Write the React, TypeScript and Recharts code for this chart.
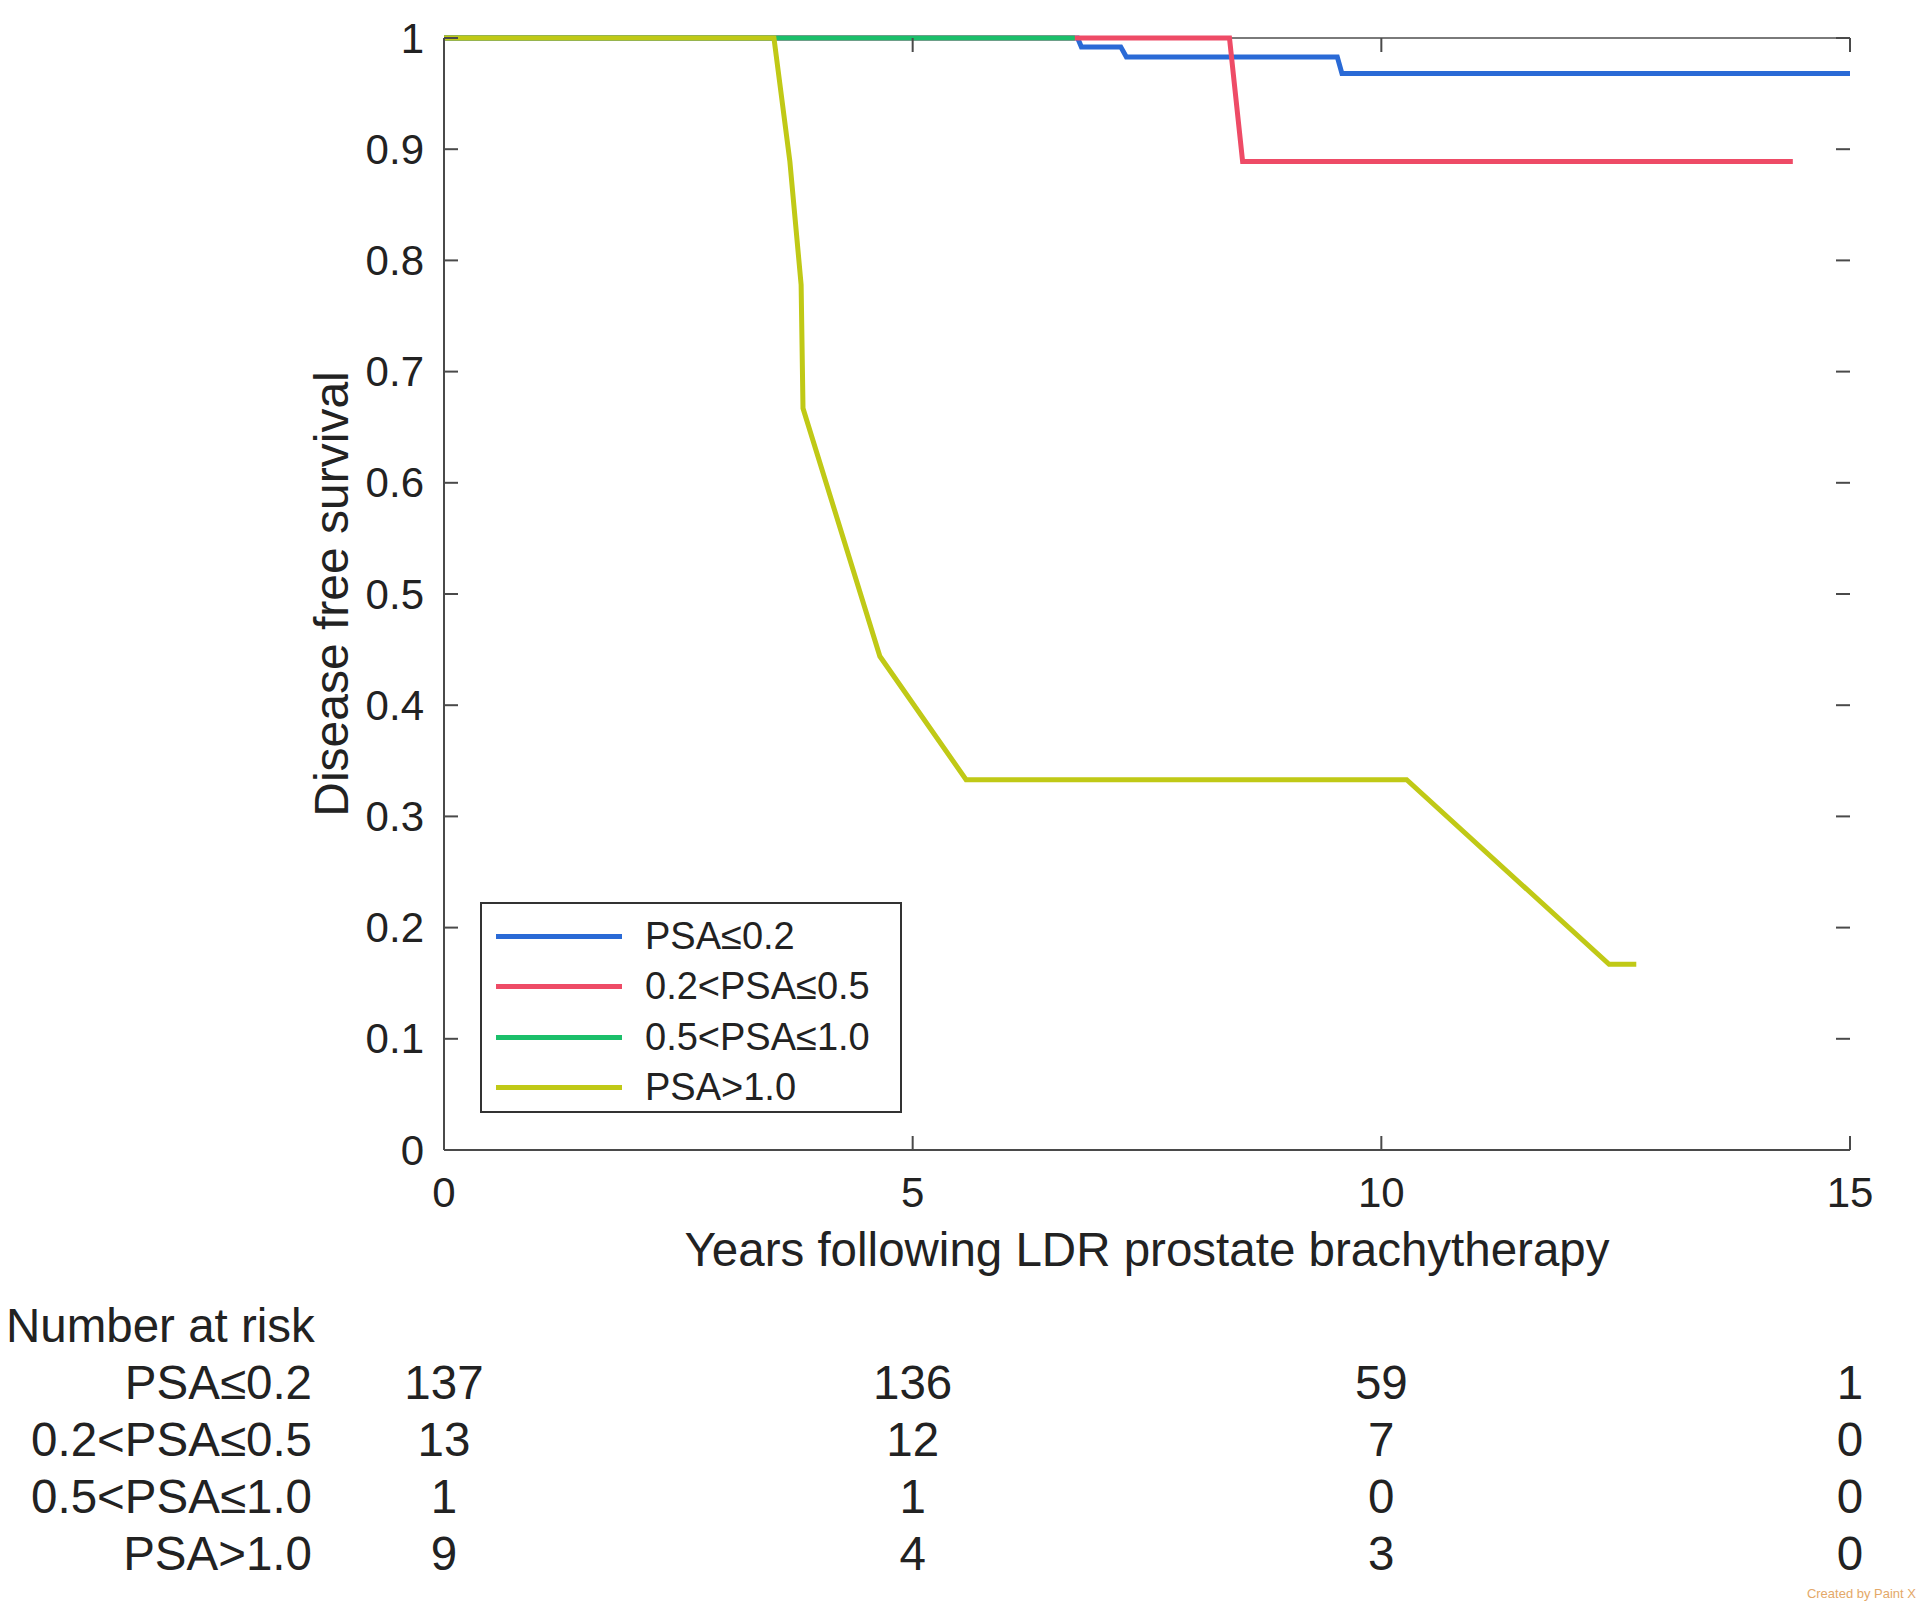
import { LineChart, Line, XAxis, YAxis, Legend, Label } from 'recharts';

// survival curves (years, disease free survival)
const lowTimes: number[] = [0, 6.76, 6.8, 7.22, 7.28, 9.53, 9.58, 15];
const lowSurv: number[] = [1, 1, 0.992, 0.992, 0.983, 0.983, 0.968, 0.968];
const midTimes: number[] = [0, 8.38, 8.52, 14.39];
const midSurv: number[] = [1, 1, 0.889, 0.889];
const highTimes: number[] = [0, 6.73];
const highSurv: number[] = [1, 1];
const topTimes: number[] = [0, 3.52, 3.69, 3.81, 3.83, 4.65, 5.57, 10.27, 12.43, 12.72];
const topSurv: number[] = [1, 1, 0.889, 0.778, 0.667, 0.444, 0.333, 0.333, 0.167, 0.167];

const groupNames: string[] = ['PSA≤0.2', '0.2<PSA≤0.5', '0.5<PSA≤1.0', 'PSA>1.0'];
const colors: string[] = ['#2a6ad6', '#ee4b66', '#1bbf6a', '#c0c916']; // blue, red, green, yellow

const xTicks: number[] = [0, 5, 10, 15];
const yTicks: number[] = [0, 0.1, 0.2, 0.3, 0.4, 0.5, 0.6, 0.7, 0.8, 0.9, 1];

// number at risk table
const riskTimes: number[] = [0, 5, 10, 15];
const riskLabels: string[] = ['PSA≤0.2', '0.2<PSA≤0.5', '0.5<PSA≤1.0', 'PSA>1.0'];
const riskLow: number[] = [137, 136, 59, 1];
const riskMid: number[] = [13, 12, 7, 0];
const riskHigh: number[] = [1, 1, 0, 0];
const riskTop: number[] = [9, 4, 3, 0];

const toRows = (t: number[], s: number[]) => t.map((v, i) => ({ t: v, s: s[i] }));
const series = [
  toRows(lowTimes, lowSurv),
  toRows(midTimes, midSurv),
  toRows(highTimes, highSurv),
  toRows(topTimes, topSurv),
];
const riskValues = [riskLow, riskMid, riskHigh, riskTop];

const FONT = '"Liberation Sans", Arial, Helvetica, sans-serif';
const W = 1920;
const CHART_H = 1300;
const PLOT_LEFT = 444;
const PLOT_RIGHT = 1850;
const PLOT_TOP = 38;
const PLOT_BOTTOM = 1150;
const AXIS_COLOR = '#4a4a4a';
const BOX_COLOR = '#7a7a7a';
const TICK_LEN = 14;

const YTick = (props: any) => {
  const { y, payload } = props;
  return (
    <g>
      <text x={PLOT_LEFT - 20} y={y} textAnchor="end" dominantBaseline="central"
        fontFamily={FONT} fontSize={42} fill="#222">{payload.value}</text>
      <line x1={PLOT_LEFT} x2={PLOT_LEFT + TICK_LEN} y1={y} y2={y} stroke={AXIS_COLOR} strokeWidth={2} />
      <line x1={PLOT_RIGHT - TICK_LEN} x2={PLOT_RIGHT} y1={y} y2={y} stroke={AXIS_COLOR} strokeWidth={2} />
    </g>
  );
};

const XTick = (props: any) => {
  const { x, payload } = props;
  return (
    <g>
      <text x={x} y={PLOT_BOTTOM + 42} textAnchor="middle" dominantBaseline="central"
        fontFamily={FONT} fontSize={42} fill="#222">{payload.value}</text>
      <line x1={x} x2={x} y1={PLOT_BOTTOM} y2={PLOT_BOTTOM - TICK_LEN} stroke={AXIS_COLOR} strokeWidth={2} />
      <line x1={x} x2={x} y1={PLOT_TOP} y2={PLOT_TOP + TICK_LEN} stroke={AXIS_COLOR} strokeWidth={2} />
    </g>
  );
};

const LegendBox = (props: any) => {
  const items = [...(props.payload || [])].sort(
    (a: any, b: any) => groupNames.indexOf(a.value) - groupNames.indexOf(b.value),
  );
  return (
    <div style={{
      width: 422, height: 211, boxSizing: 'border-box', border: '2px solid #333',
      background: '#fff', paddingTop: 7,
    }}>
      {items.map((it: any) => (
        <div key={it.value} style={{ display: 'flex', alignItems: 'center', height: 50.5 }}>
          <div style={{ marginLeft: 14, width: 126, height: 5, background: it.color }} />
          <span style={{ marginLeft: 23, fontFamily: FONT, fontSize: 38, color: '#222' }}>{it.value}</span>
        </div>
      ))}
    </div>
  );
};

const xFor = (t: number) => PLOT_LEFT + (t / 15) * (PLOT_RIGHT - PLOT_LEFT);

const App = () => {
  return (
    <div style={{ position: 'absolute', left: 0, top: 0, width: W, height: 1610, background: '#fff' }}>
      <LineChart width={W} height={CHART_H} margin={{ top: PLOT_TOP - 1, right: W - PLOT_RIGHT, left: 0, bottom: 0 }}>
        <XAxis xAxisId="top" orientation="top" type="number" domain={[0, 15]} height={1}
          tick={false} tickLine={false} axisLine={{ stroke: BOX_COLOR, strokeWidth: 2 }} />
        <YAxis yAxisId="right" orientation="right" type="number" domain={[0, 1]} width={0}
          tick={false} tickLine={false} axisLine={{ stroke: BOX_COLOR, strokeWidth: 2 }} />
        <XAxis dataKey="t" type="number" domain={[0, 15]} ticks={xTicks} height={CHART_H - PLOT_BOTTOM}
          tick={<XTick />} tickLine={false} axisLine={{ stroke: AXIS_COLOR, strokeWidth: 2 }} allowDataOverflow>
          <Label position="insideTop" offset={82} value="Years following LDR prostate brachytherapy"
            style={{ fontFamily: FONT, fontSize: 47.5, fill: '#222' }} />
        </XAxis>
        <YAxis type="number" domain={[0, 1]} ticks={yTicks} width={PLOT_LEFT}
          tick={<YTick />} tickLine={false} axisLine={{ stroke: AXIS_COLOR, strokeWidth: 2 }}>
          <Label content={() => (
            <text x={331} y={(PLOT_TOP + PLOT_BOTTOM) / 2} transform={`rotate(-90 331 ${(PLOT_TOP + PLOT_BOTTOM) / 2})`}
              textAnchor="middle" dominantBaseline="central" fontFamily={FONT} fontSize={48} fill="#222">
              Disease free survival
            </text>
          )} />
        </YAxis>
        {series.map((d, i) => (
          <Line key={groupNames[i]} name={groupNames[i]} data={d} dataKey="s" type="linear" zIndex={600}
            stroke={colors[i]} strokeWidth={5} dot={false} activeDot={false} isAnimationActive={false} />
        ))}
        <Legend layout="vertical" align="center" verticalAlign="middle" content={<LegendBox />}
          wrapperStyle={{ position: 'absolute', left: 480, top: 902, width: 422, height: 211 }} />
      </LineChart>
      <svg width={W} height={1610 - CHART_H} style={{ position: 'absolute', left: 0, top: CHART_H }}>
        <text x={6} y={1325 - CHART_H} dominantBaseline="central" fontFamily={FONT} fontSize={47.5} fill="#222">Number at risk</text>
        {riskLabels.map((lab, r) => (
          <g key={lab}>
            <text x={312} y={1382 + r * 57 - CHART_H} textAnchor="end" dominantBaseline="central"
              fontFamily={FONT} fontSize={47.5} fill="#222">{lab}</text>
            {riskTimes.map((t, c) => (
              <text key={t} x={xFor(t)} y={1382 + r * 57 - CHART_H} textAnchor="middle" dominantBaseline="central"
                fontFamily={FONT} fontSize={47.5} fill="#222">{riskValues[r][c]}</text>
            ))}
          </g>
        ))}
        <text x={1916} y={1593 - CHART_H} textAnchor="end" dominantBaseline="central"
          fontFamily={FONT} fontSize={13} fill="#e4a868">Created by Paint X</text>
      </svg>
    </div>
  );
};

export default App;
